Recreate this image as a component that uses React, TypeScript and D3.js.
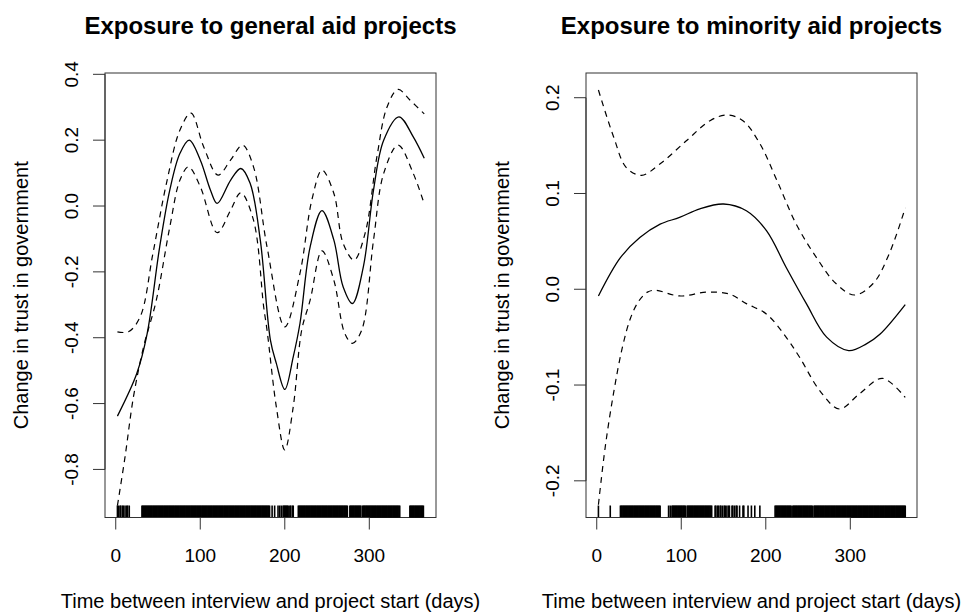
import React from 'react';
import * as d3 from 'd3';

// x tick values / labels shared by both panels
const xTicks = [0, 100, 200, 300];

// left panel: exposure to general aid projects
const leftTicks = [-0.8, -0.6, -0.4, -0.2, 0.0, 0.2, 0.4];
const leftTickLabels = ['-0.8', '-0.6', '-0.4', '-0.2', '0.0', '0.2', '0.4'];
const leftFitX = [2, 25, 37, 52, 64, 76, 87, 100, 112, 120, 136, 148, 159, 171, 183, 190, 200, 210, 218, 230, 244, 258, 269, 280, 293, 305, 317, 335, 352, 365];
const leftFitY = [-0.638, -0.508, -0.39, -0.124, 0.049, 0.16, 0.2, 0.14, 0.049, 0.008, 0.079, 0.114, 0.069, -0.103, -0.407, -0.478, -0.557, -0.458, -0.356, -0.124, -0.014, -0.103, -0.245, -0.296, -0.184, 0.049, 0.2, 0.271, 0.21, 0.145];
const leftUpX = [2, 15, 29, 44, 60, 76, 89, 104, 121, 136, 150, 163, 179, 200, 218, 232, 244, 258, 269, 282, 295, 309, 321, 334, 348, 365];
const leftUpY = [-0.382, -0.382, -0.336, -0.144, 0.069, 0.231, 0.282, 0.18, 0.094, 0.14, 0.185, 0.119, -0.124, -0.367, -0.204, 0.018, 0.109, 0.039, -0.113, -0.164, -0.083, 0.15, 0.301, 0.354, 0.322, 0.28];
const leftLoX = [2, 11, 21, 33, 48, 64, 76, 86, 100, 120, 136, 148, 163, 175, 179, 190, 200, 210, 220, 230, 244, 258, 271, 280, 291, 305, 317, 334, 352, 365];
const leftLoY = [-0.91, -0.762, -0.579, -0.427, -0.286, -0.063, 0.079, 0.119, 0.059, -0.081, -0.012, 0.04, -0.043, -0.306, -0.377, -0.61, -0.741, -0.61, -0.377, -0.286, -0.136, -0.225, -0.387, -0.417, -0.377, -0.103, 0.099, 0.185, 0.099, 0.006];
const leftRug = [
  2, 3, 5, 6, 8, 9, 11, 13, 14, 16,
  31, 32, 33, 34, 35, 36, 37, 38, 39, 40, 41, 42, 43, 44, 45, 46, 47, 48, 49, 50,
  51, 52, 53, 54, 55, 56, 57, 58, 59, 60, 61, 62, 63, 64, 65, 66, 67, 68, 69, 70,
  71, 72, 73, 74, 75, 76, 77, 78, 79, 80, 81, 82, 83, 84, 85, 86, 87, 88, 89, 90,
  91, 92, 93, 94, 95, 96, 97, 98, 99, 100, 101, 102, 103, 104, 105, 106, 107, 108, 109, 110,
  111, 112, 113, 114, 115, 116, 117, 118, 119, 120, 121, 122, 123, 124, 125, 126, 127, 128, 129, 130,
  131, 132, 133, 134, 135, 136, 137, 138, 139, 140, 141, 142, 143, 144, 145, 146, 147, 148, 149, 150,
  151, 152, 153, 154, 155, 156, 157, 158, 159, 160, 161, 162, 163, 164, 165, 166, 167, 168, 169, 170,
  171, 172, 173, 174, 175, 176, 177, 178, 179, 180, 181, 182,
  185, 188, 192, 194, 196, 198, 199, 200, 201, 202, 203, 204, 206, 207, 209, 210,
  216, 217, 218, 219, 220, 221, 222, 223, 224, 225, 226, 227, 228, 229, 230, 231, 232, 233, 234, 235,
  236, 237, 238, 239, 240, 241, 242, 243, 244, 245, 246, 247, 248, 249, 250, 251, 252, 253, 254, 255,
  256, 257, 258, 259, 260, 261, 262, 263, 264, 265, 266, 267, 268, 269, 270, 271, 272, 273, 274,
  277, 278, 279, 280, 281, 282, 283, 284, 285, 286, 287, 288, 289, 290,
  292, 293, 294, 295, 296, 297, 298, 299, 300, 301, 302, 303, 304, 305, 306, 307, 308, 309, 310,
  311, 312, 313, 314, 315, 316, 317, 318, 319, 320, 321, 322, 323, 324, 325, 326, 327, 328, 329, 330,
  331, 332, 333, 334, 335, 336,
  348, 349, 350, 351, 352, 353, 354, 355, 356, 357, 358, 359, 360, 361, 362, 363, 364,
];

// right panel: exposure to minority aid projects
const rightTicks = [-0.2, -0.1, 0.0, 0.1, 0.2];
const rightTickLabels = ['-0.2', '-0.1', '0.0', '0.1', '0.2'];
const rightFitX = [2, 28, 51, 75, 98, 122, 150, 177, 201, 224, 248, 272, 298, 319, 335, 365];
const rightFitY = [-0.007, 0.033, 0.054, 0.068, 0.075, 0.084, 0.089, 0.082, 0.061, 0.023, -0.015, -0.05, -0.064, -0.057, -0.047, -0.016];
const rightUpX = [2, 20, 35, 53, 75, 106, 134, 154, 173, 193, 213, 236, 260, 283, 305, 327, 346, 365];
const rightUpY = [0.208, 0.159, 0.127, 0.119, 0.131, 0.155, 0.176, 0.182, 0.176, 0.152, 0.114, 0.068, 0.033, 0.006, -0.006, 0.006, 0.037, 0.085];
const rightLoX = [2, 10, 20, 30, 40, 50, 60, 69, 98, 130, 157, 177, 201, 224, 240, 264, 287, 311, 338, 365];
const rightLoY = [-0.225, -0.165, -0.108, -0.062, -0.03, -0.012, -0.003, -0.001, -0.007, -0.003, -0.005, -0.015, -0.026, -0.05, -0.071, -0.106, -0.125, -0.109, -0.093, -0.113];
const rightRug = [
  2, 16,
  28, 29, 30, 31, 32, 33, 34, 35, 36, 37, 38, 39, 40, 41, 42, 43, 44, 45, 46, 47, 48, 49, 50,
  51, 52, 53, 54, 55, 56, 57, 58, 59, 60, 61, 62, 63, 64, 65, 66, 67, 68, 69, 70, 71, 72, 73, 74, 75,
  85, 87, 89, 90, 91, 92, 93, 94, 95, 96, 97, 98, 99, 100, 101, 102, 103, 104, 105,
  107, 108, 109, 110, 111, 112, 113, 114, 115, 116, 117, 118, 119, 120, 121, 122, 123, 124, 125,
  126, 127, 128, 129, 130, 131, 132, 133, 134, 135, 136,
  140, 141, 143, 144, 146, 147, 149, 151, 152, 154, 156, 157, 160, 161, 163, 165, 166, 169, 173, 174, 179, 183, 187, 193,
  211, 212, 213, 214, 215, 216, 217, 218, 219, 220, 221, 222, 223, 224, 225, 226, 227, 228, 229, 230,
  232, 233, 234, 235, 236, 237, 238, 239, 240, 241, 242, 243, 244, 245, 246, 247, 248, 249, 250,
  251, 252, 253, 254, 255, 257, 258, 259, 260, 261, 262, 263, 264, 265, 266, 267, 268, 269, 270,
  271, 272, 273, 274, 275, 276, 277, 278, 279, 280, 281, 282, 283, 284, 285, 286, 287, 288, 289, 290,
  291, 292, 293, 294, 295, 296, 297, 298, 299, 300, 301, 302, 303, 304, 305, 306, 307, 308, 309, 310,
  311, 312, 313, 314, 315, 316, 317, 318, 319, 320, 321, 322, 323, 324, 325, 326, 327, 328, 329, 330,
  331, 332, 333, 334, 335, 336, 337, 338, 339, 340, 341, 342, 343, 344, 345, 346, 347, 348, 349, 350,
  351, 352, 353, 354, 355, 356, 357, 358, 359, 360, 361, 362, 363, 364, 365,
];

const FONT = 'Liberation Sans, Arial, Helvetica, sans-serif';
const TOP = 73;
const BOTTOM = 517.5;
const BOX_W = 331;

const Panel = ({ x0, title, yDomain, yTicks, yLabels, fit, upper, lower, rug }) => {
  const x = d3.scaleLinear().domain([-12.7, 378.9]).range([x0, x0 + BOX_W]);
  const y = d3.scaleLinear().domain(yDomain).range([BOTTOM, TOP]);
  const line = d3
    .line()
    .x((d) => x(d[0]))
    .y((d) => y(d[1]))
    .curve(d3.curveCatmullRom.alpha(0.5));
  const cx = x0 + BOX_W / 2;
  const cy = (TOP + BOTTOM) / 2;

  return (
    <g>
      <text x={cx} y={34} textAnchor="middle" fontFamily={FONT} fontSize={24} fontWeight="bold">
        {title}
      </text>
      <rect x={x0} y={TOP} width={BOX_W} height={BOTTOM - TOP} fill="none" stroke="#333" strokeWidth={1} />

      {rug.map((d, i) => (
        <line key={i} x1={x(d)} x2={x(d)} y1={BOTTOM} y2={BOTTOM - 12} stroke="#000" strokeWidth={1.6} />
      ))}

      <path d={line(d3.zip(fit[0], fit[1]))} fill="none" stroke="#000" strokeWidth={1.3} />
      <path d={line(d3.zip(upper[0], upper[1]))} fill="none" stroke="#000" strokeWidth={1.2} strokeDasharray="6,5" />
      <path d={line(d3.zip(lower[0], lower[1]))} fill="none" stroke="#000" strokeWidth={1.2} strokeDasharray="6,5" />

      {/* x axis */}
      <line x1={x(xTicks[0])} x2={x(xTicks[xTicks.length - 1])} y1={BOTTOM} y2={BOTTOM} stroke="#333" />
      {xTicks.map((t) => (
        <g key={t}>
          <line x1={x(t)} x2={x(t)} y1={BOTTOM} y2={BOTTOM + 12} stroke="#333" />
          <text x={x(t)} y={562} textAnchor="middle" fontFamily={FONT} fontSize={19}>
            {t}
          </text>
        </g>
      ))}
      <text x={cx} y={608} textAnchor="middle" fontFamily={FONT} fontSize={20}>
        Time between interview and project start (days)
      </text>

      {/* y axis */}
      <line x1={x0} x2={x0} y1={y(yTicks[0])} y2={y(yTicks[yTicks.length - 1])} stroke="#333" />
      {yTicks.map((t, i) => (
        <g key={t}>
          <line x1={x0} x2={x0 - 12} y1={y(t)} y2={y(t)} stroke="#333" />
          <text
            transform={`translate(${x0 - 27},${y(t)}) rotate(-90)`}
            textAnchor="middle"
            fontFamily={FONT}
            fontSize={19}
          >
            {yLabels[i]}
          </text>
        </g>
      ))}
      <text
        transform={`translate(${x0 - 77},${cy}) rotate(-90)`}
        textAnchor="middle"
        fontFamily={FONT}
        fontSize={20}
      >
        Change in trust in government
      </text>
    </g>
  );
};

const App = () => (
  <svg width={967} height={616} style={{ position: 'absolute', left: 0, top: 0, background: '#fff' }}>
    <Panel
      x0={105}
      title="Exposure to general aid projects"
      yDomain={[-0.946, 0.404]}
      yTicks={leftTicks}
      yLabels={leftTickLabels}
      fit={[leftFitX, leftFitY]}
      upper={[leftUpX, leftUpY]}
      lower={[leftLoX, leftLoY]}
      rug={leftRug}
    />
    <Panel
      x0={586}
      title="Exposure to minority aid projects"
      yDomain={[-0.2383, 0.2258]}
      yTicks={rightTicks}
      yLabels={rightTickLabels}
      fit={[rightFitX, rightFitY]}
      upper={[rightUpX, rightUpY]}
      lower={[rightLoX, rightLoY]}
      rug={rightRug}
    />
  </svg>
);

export default App;
